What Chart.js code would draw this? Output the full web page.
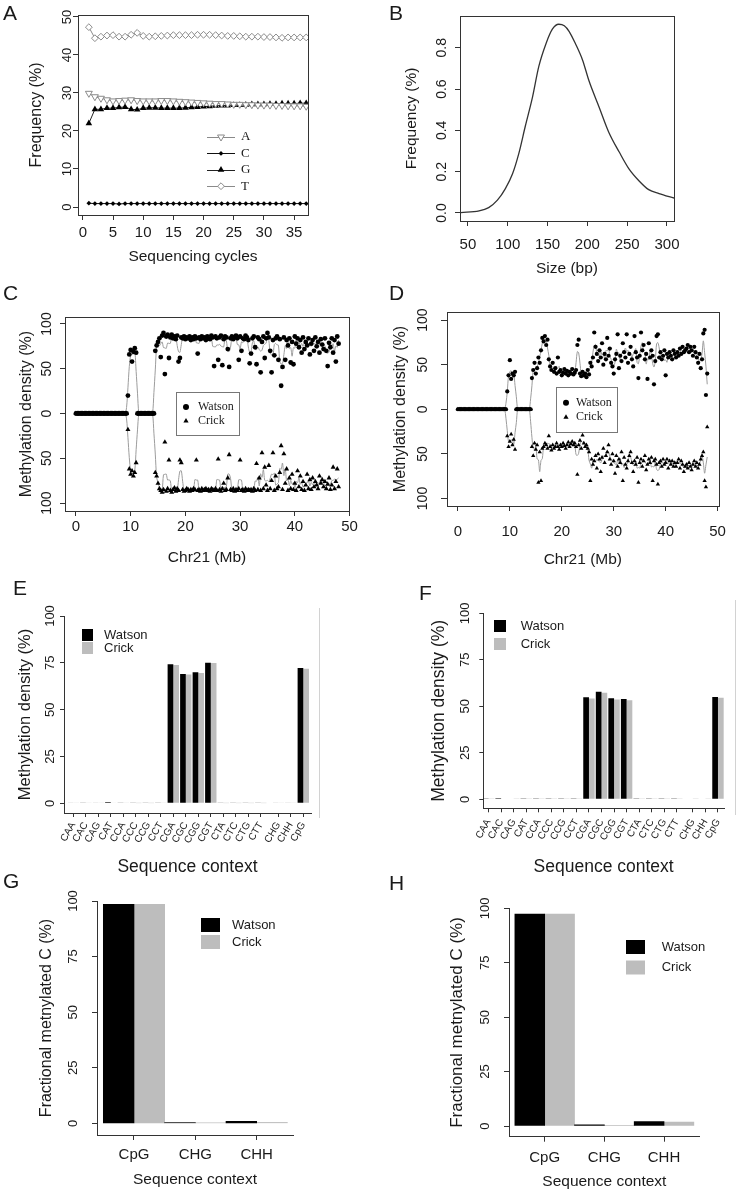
<!DOCTYPE html>
<html>
<head>
<meta charset="utf-8">
<title>Bisulfite sequencing summary</title>
<script src="https://cdn.jsdelivr.net/npm/chart.js@4.4.1/dist/chart.umd.min.js"></script>
<style>
  html, body { margin: 0; padding: 0; background: #fff; }
  body { position: relative; width: 738px; height: 1193px; overflow: hidden; font-family: "Liberation Sans", Arial, sans-serif; color: #1a1a1a; }
  canvas { position: absolute; }
  .tag { position: absolute; font-size: 21px; line-height: 21px; }
  .rule { position: absolute; width: 1px; background: #d2d2d2; }
</style>
</head>
<body>
<canvas id="panelA" width="330" height="270" style="left:0;top:0"></canvas>
<canvas id="panelB" width="330" height="280" style="left:369px;top:0"></canvas>
<canvas id="panelC" width="369" height="290" style="left:0;top:280px"></canvas>
<canvas id="panelD" width="369" height="290" style="left:369px;top:280px"></canvas>
<canvas id="panelE" width="330" height="310" style="left:0;top:570px"></canvas>
<canvas id="panelF" width="369" height="310" style="left:369px;top:570px"></canvas>
<canvas id="panelG" width="330" height="313" style="left:0;top:880px"></canvas>
<canvas id="panelH" width="369" height="313" style="left:369px;top:880px"></canvas>

<div class="tag" style="left:3px;top:2px">A</div>
<div class="tag" style="left:389px;top:2px">B</div>
<div class="tag" style="left:3px;top:282px">C</div>
<div class="tag" style="left:389px;top:282px">D</div>
<div class="tag" style="left:13px;top:577px">E</div>
<div class="tag" style="left:419px;top:582px">F</div>
<div class="tag" style="left:3px;top:870px">G</div>
<div class="tag" style="left:389px;top:872px">H</div>
<div class="rule" style="left:319px;top:608px;height:210px"></div>
<div class="rule" style="left:735px;top:600px;height:215px"></div>

<script>
// ---------- data ----------

// A: base composition per sequencing cycle
const cycles = [1, 2, 3, 4, 5, 6, 7, 8, 9, 10, 11, 12, 13, 14, 15, 16, 17, 18, 19, 20,
  21, 22, 23, 24, 25, 26, 27, 28, 29, 30, 31, 32, 33, 34, 35, 36, 37];
const freqA = [29.9, 29.0, 28.6, 28.2, 27.9, 28.0, 28.1, 28.2, 28.0, 27.9, 27.9, 27.9, 28.0, 28.0, 27.9, 27.8, 27.7, 27.6, 27.5, 27.4,
  27.3, 27.2, 27.2, 27.1, 27.0, 27.0, 26.9, 26.9, 26.8, 26.8, 26.8, 26.7, 26.7, 26.6, 26.6, 26.6, 26.5];
const freqC = [1.0, 0.9, 0.9, 0.9, 0.9, 0.8, 0.9, 0.9, 0.9, 0.9, 0.9, 0.9, 0.9, 0.9, 0.9, 0.9, 0.9, 0.9, 0.9, 0.9,
  0.9, 0.9, 0.9, 0.9, 0.9, 0.9, 0.9, 0.9, 0.9, 0.9, 0.9, 0.9, 0.9, 0.9, 0.9, 0.9, 0.9];
const freqG = [22.0, 25.7, 25.7, 26.0, 26.0, 26.2, 26.3, 25.7, 25.6, 26.0, 26.1, 26.1, 26.0, 26.0, 26.0, 26.0, 26.1, 26.2, 26.3, 26.4,
  26.5, 26.6, 26.7, 26.7, 26.8, 26.8, 26.9, 27.0, 27.0, 27.0, 27.1, 27.1, 27.2, 27.2, 27.2, 27.3, 27.3];
const freqT = [47.3, 44.4, 44.8, 45.1, 45.2, 44.8, 44.8, 45.3, 45.8, 45.0, 44.8, 44.9, 45.0, 45.1, 45.2, 45.2, 45.2, 45.2, 45.3, 45.3,
  45.3, 45.2, 45.1, 45.0, 45.0, 44.9, 44.8, 44.8, 44.8, 44.7, 44.7, 44.6, 44.5, 44.6, 44.6, 44.6, 44.6];
const aXTicks = [0, 5, 10, 15, 20, 25, 30, 35];
const aYTicks = [0, 10, 20, 30, 40, 50];

// B: fragment size distribution
const sizes = [41, 64, 76, 87, 97, 106, 114, 122, 131, 139, 148, 156, 164, 171, 177, 185, 194, 202, 215, 227, 240, 252, 265, 277, 290, 309];
const sizeFreq = [0.002, 0.010, 0.026, 0.062, 0.118, 0.190, 0.290, 0.420, 0.560, 0.710, 0.820, 0.890, 0.914, 0.907, 0.880, 0.820,
  0.740, 0.640, 0.510, 0.390, 0.295, 0.215, 0.155, 0.113, 0.094, 0.072];
const bXTicks = [50, 100, 150, 200, 250, 300];
const bYTicks = [0, 0.2, 0.4, 0.6, 0.8];

// C, D: methylation density along chr21, one value per 0.25 Mb bin starting at 0 Mb
const BIN_MB = 0.25;
const cWatson = [
  0,0,0,0, 0,0,0,0, 0,0,0,0, 0,0,0,0, 0,0,0,0, 0,0,0,0, 0,0,0,0, 0,0,0,0, 0,0,0,0, // 0-8
  0,0,20,66,  71,58,69,73,  68,0,0,0,  0,0,0,0,  0,0,0,0,        // 9-13
  0,0,70,76,  80,84,63,87,  90,44,86,88,  62,85,88,84,  86,83,87,58, // 14-18
  62,85,84,86,  83,85,84,86,  82,85,83,86,  84,67,85,83,  86,84,85,82, // 19-23
  86,84,83,87,  85,53,86,84,  60,85,87,54,  83,86,85,72,  52,84,86,83, // 24-28
  85,87,84,60,  86,70,84,83,  87,85,82,56,  67,84,86,74,  55,85,83,46, // 29-33
  80,86,62,84,  90,85,70,46,  82,65,84,86,  60,83,31,52,  85,60,82,76, // 34-38
  84,57,80,55,  86,78,84,74,  82,68,85,72,  80,76,84,66,  78,82,70,85, // 39-43
  75,80,68,83,  77,72,84,70,  53,79,74,84,  68,82,58,86,  78             // 44-48
];
const cCrick = [
  0,0,0,0, 0,0,0,0, 0,0,0,0, 0,0,0,0, 0,0,0,0, 0,0,0,0, 0,0,0,0, 0,0,0,0, 0,0,0,0,
  0,0,18,62,  68,64,70,66,  55,0,0,0,  0,0,0,0,  0,0,0,0,
  0,0,66,70,  78,84,86,88,  85,32,87,84,  52,86,88,85,  83,87,84,86,
  52,55,85,87,  86,84,85,87,  85,86,84,85,  52,86,85,87,  84,86,85,84,
  86,85,87,84,  85,86,84,86,  51,85,87,84,  78,86,85,72,  46,85,86,84,
  87,85,86,84,  52,86,85,87,  84,86,85,86,  85,87,84,86,  56,85,72,86,
  44,84,60,80,  86,58,84,75,  44,86,70,84,  82,66,36,85,  45,78,62,86,
  72,84,68,85,  78,86,64,82,  70,85,76,86,  80,68,84,74,  85,72,82,76,
  80,84,70,78,  74,82,76,84,  79,72,85,80,  60,84,76,62,  82
];
const dWatson = [
  0,0,0,0, 0,0,0,0, 0,0,0,0, 0,0,0,0, 0,0,0,0, 0,0,0,0, 0,0,0,0, 0,0,0,0, 0,0,0,0,
  0,0,20,38,  55,34,40,38,  42,0,0,0,  0,0,0,0,  0,0,0,0,
  0,35,44,52,  40,46,58,52,  66,80,76,82,  72,78,56,48,  44,52,42,46,
  40,58,42,44,  38,41,45,40,  43,38,42,40,  45,39,41,44,  72,78,40,37,
  42,38,40,36,  44,39,52,48,  58,86,70,62,  54,66,58,74,  50,62,56,80,
  60,68,52,48,  40,56,62,84,  46,60,54,74,  64,58,84,52,  62,70,56,48,
  82,64,58,35,  60,86,66,72,  56,62,34,74,  58,66,60,28,  54,82,84,58,
  64,56,60,66,  38,62,58,64,  60,56,66,62,  58,64,60,68,  62,70,64,66,
  68,72,64,70,  66,60,70,64,  58,52,62,46,  56,85,89,16,  40
];
const dCrick = [
  0,0,0,0, 0,0,0,0, 0,0,0,0, 0,0,0,0, 0,0,0,0, 0,0,0,0, 0,0,0,0, 0,0,0,0, 0,0,0,0,
  0,0,30,42,  36,28,40,34,  45,0,0,0,  0,0,0,0,  0,0,0,0,
  0,42,52,38,  45,40,82,48,  80,44,42,38,  40,44,30,42,  46,40,44,42,
  38,42,45,40,  42,38,41,44,  40,37,42,39,  36,40,38,42,  73,40,35,44,
  29,38,42,40,  44,48,80,56,  62,58,52,66,  50,56,70,54,  44,60,52,48,
  40,56,62,50,  58,72,52,64,  56,60,48,80,  54,62,66,58,  52,48,60,70,
  58,62,54,82,  60,56,64,58,  52,68,62,56,  60,54,80,58,  56,62,84,60,
  58,64,56,62,  60,56,66,58,  62,58,64,60,  64,60,56,66,  58,62,70,64,
  62,66,60,64,  68,62,58,64,  60,66,62,56,  52,48,80,87,  20
];
const chrTicks = [0, 10, 20, 30, 40, 50];
const strandTicks = [-100, -50, 0, 50, 100];

// E, F: methylation density per trinucleotide context
const contexts = ['CAA', 'CAC', 'CAG', 'CAT', 'CCA', 'CCC', 'CCG', 'CCT', 'CGA', 'CGC', 'CGG', 'CGT',
  'CTA', 'CTC', 'CTG', 'CTT', 'CHG', 'CHH', 'CpG'];
const eWatson = [0.3, 0.2, 0.3, 0.6, 0.2, 0.2, 0.2, 0.2, 74.2, 69.1, 70.0, 75.1, 0.2, 0.2, 0.2, 0.2, 0.3, 0.3, 72.3];
const eCrick = [0.2, 0.2, 0.2, 0.3, 0.2, 0.1, 0.1, 0.2, 73.9, 68.7, 69.6, 74.9, 0.1, 0.1, 0.1, 0.1, 0.2, 0.2, 71.8];
const fWatson = [0.2, 0.6, 0.3, 0.2, 0.2, 0.2, 0.2, 0.2, 54.8, 57.8, 54.3, 53.9, 0.2, 0.2, 0.2, 0.2, 0.3, 0.3, 55.0];
const fCrick = [0.2, 0.3, 0.2, 0.1, 0.1, 0.1, 0.1, 0.1, 54.2, 57.3, 53.6, 53.2, 0.1, 0.1, 0.1, 0.1, 0.2, 0.2, 54.6];
const densityTicks = [0, 25, 50, 75, 100];

// G, H: fraction of methylated C per context
const summaryContexts = ['CpG', 'CHG', 'CHH'];
const gWatson = [98.5, 0.3, 0.9];
const gCrick = [98.5, 0.2, 0.4];
const hWatson = [97.4, 0.6, 2.0];
const hCrick = [97.4, 0.3, 1.8];

// ---------- look ----------
const SANS = '"Liberation Sans", Arial, Helvetica, sans-serif';
const SERIF = '"Liberation Serif", "Times New Roman", serif';
const INK = '#1a1a1a';
const AXIS = '#333';
const LIGHT = '#bdbdbd';

Chart.defaults.font.family = SANS;
Chart.defaults.color = INK;

// draws the symbol of a dataset (used by the in-plot keys)
function drawMark(ctx, ds, x, y, r) {
  ctx.fillStyle = ds.pointBackgroundColor;
  ctx.strokeStyle = ds.pointBorderColor || ds.pointBackgroundColor;
  ctx.lineWidth = ds.pointBorderWidth || 0;
  ctx.beginPath();
  if (ds.pointStyle === 'circle') {
    ctx.arc(x, y, r, 0, Math.PI * 2);
  } else if (ds.pointStyle === 'rectRot') {
    ctx.moveTo(x, y - r); ctx.lineTo(x + r, y); ctx.lineTo(x, y + r); ctx.lineTo(x - r, y); ctx.closePath();
  } else {
    const s = ds.pointRotation === 180 ? -1 : 1;
    ctx.moveTo(x, y - s * r); ctx.lineTo(x + r * 0.866, y + s * r / 2); ctx.lineTo(x - r * 0.866, y + s * r / 2); ctx.closePath();
  }
  ctx.fill();
  if (ds.pointBorderWidth) ctx.stroke();
}

// key placed inside the plot like the R legends
const keyLegend = {
  id: 'keyLegend',
  afterDatasetsDraw(chart, args, o) {
    if (!o || !o.rows) return;
    const ctx = chart.ctx;
    ctx.save();
    if (o.frame) {
      const [fx, fy, fw, fh] = o.frame;
      ctx.fillStyle = '#fff';
      ctx.fillRect(fx, fy, fw, fh);
      ctx.strokeStyle = '#777';
      ctx.lineWidth = 1;
      ctx.strokeRect(fx + 0.5, fy + 0.5, fw, fh);
    }
    ctx.font = o.font;
    ctx.textBaseline = 'middle';
    o.rows.forEach((dsIndex, i) => {
      const ds = chart.data.datasets[dsIndex];
      const y = o.y + i * o.gap;
      if (o.swatch) {
        ctx.fillStyle = ds.backgroundColor;
        ctx.fillRect(o.x, y - o.swatch[1] / 2, o.swatch[0], o.swatch[1]);
      } else {
        if (o.line) {
          ctx.strokeStyle = ds.borderColor;
          ctx.lineWidth = 1;
          ctx.beginPath();
          ctx.moveTo(o.x - o.line, Math.round(y) + 0.5);
          ctx.lineTo(o.x + o.line, Math.round(y) + 0.5);
          ctx.stroke();
        }
        drawMark(ctx, ds, o.x, y, o.r || ds.pointRadius);
      }
      ctx.fillStyle = INK;
      ctx.fillText(ds.label, o.textX, y);
    });
    ctx.restore();
  }
};

// closes the plot box on top and right
const frame = {
  id: 'frame',
  afterDatasetsDraw(chart, args, o) {
    if (!o || !o.on) return;
    const {ctx, chartArea: a} = chart;
    ctx.save();
    ctx.strokeStyle = AXIS;
    ctx.lineWidth = 1;
    ctx.strokeRect(Math.round(a.left) + 0.5, Math.round(a.top) + 0.5, Math.round(a.right - a.left), Math.round(a.bottom - a.top));
    ctx.restore();
  }
};

Chart.register(keyLegend, frame);

function yAxis(o) {
  return {
    type: 'linear', position: 'left', min: o.min, max: o.max, bounds: 'data',
    afterFit: s => { s.width = o.width; },
    afterBuildTicks: s => { s.ticks = o.ticks.map(v => ({ value: v })); },
    grid: { drawOnChartArea: false, drawTicks: true, tickLength: o.tl, tickColor: AXIS, color: AXIS },
    border: { display: true, color: AXIS, width: 1 },
    ticks: {
      minRotation: 90, maxRotation: 90, crossAlign: 'center', padding: o.pad, autoSkip: false,
      color: INK, font: { size: o.font, family: SANS }, callback: o.fmt || (v => v)
    },
    title: { display: true, text: o.title, color: INK, font: { size: o.titleSize, family: SANS }, padding: { top: o.titlePad, bottom: 0 } }
  };
}

function xAxis(o) {
  return {
    type: 'linear', position: 'bottom', min: o.min, max: o.max, bounds: 'data', offset: false,
    afterFit: s => { s.height = o.height; },
    afterBuildTicks: s => { s.ticks = o.ticks.map(v => ({ value: v })); },
    grid: { drawOnChartArea: false, drawTicks: true, tickLength: o.tl, tickColor: AXIS, color: AXIS, offset: false },
    border: { display: true, color: AXIS, width: 1 },
    ticks: {
      minRotation: o.rot || 0, maxRotation: o.rot || 0, padding: o.pad, autoSkip: false,
      color: INK, font: { size: o.font, family: SANS },
      callback: o.labels ? (v, i) => o.labels[i] : (v => v)
    },
    title: { display: true, text: o.title, color: INK, font: { size: o.titleSize, family: SANS }, padding: { top: 0, bottom: o.titlePad } }
  };
}

function baseOptions(pad, scales, plugins) {
  return {
    responsive: false,
    animation: false,
    devicePixelRatio: 1,
    events: [],
    layout: { padding: pad },
    scales: scales,
    plugins: Object.assign({ legend: { display: false }, tooltip: { enabled: false } }, plugins)
  };
}

// ---------- A ----------
function cycleSeries(label, values, look) {
  return {
    label: label,
    data: cycles.map((c, i) => ({ x: c, y: values[i] })),
    borderColor: look.line, borderWidth: 1, tension: 0,
    pointStyle: look.style, pointRotation: look.rot || 0, pointRadius: look.r,
    pointBackgroundColor: look.fill, pointBorderColor: look.edge, pointBorderWidth: look.bw
  };
}

new Chart(document.getElementById('panelA'), {
  type: 'line',
  data: {
    datasets: [
      cycleSeries('A', freqA, { line: '#8a8a8a', style: 'triangle', rot: 180, r: 4, fill: '#fff', edge: '#8a8a8a', bw: 1 }),
      cycleSeries('C', freqC, { line: '#111', style: 'rectRot', r: 2.4, fill: '#000', edge: '#000', bw: 0 }),
      cycleSeries('G', freqG, { line: '#222', style: 'triangle', r: 3.8, fill: '#000', edge: '#000', bw: 0 }),
      cycleSeries('T', freqT, { line: '#8a8a8a', style: 'rectRot', r: 3.4, fill: '#fff', edge: '#8a8a8a', bw: 1 })
    ]
  },
  options: baseOptions({ left: 0, top: 15, right: 22, bottom: 0 }, {
    x: xAxis({ min: -0.8, max: 37.3, ticks: aXTicks, height: 55, tl: 5, pad: 4, font: 15, title: 'Sequencing cycles', titleSize: 15.5, titlePad: 3.7 }),
    y: yAxis({ min: -2.1, max: 50.5, ticks: aYTicks, width: 78, tl: 5, pad: -1.5, font: 13, title: 'Frequency (%)', titleSize: 16, titlePad: 27.4 })
  }, {
    frame: { on: true },
    keyLegend: { rows: [0, 1, 2, 3], x: 221, y: 137, gap: 16.4, line: 14, textX: 241, font: '13px ' + SERIF }
  })
});

// ---------- B ----------
new Chart(document.getElementById('panelB'), {
  type: 'line',
  data: {
    datasets: [{
      label: 'Frequency',
      data: sizes.map((s, i) => ({ x: s, y: sizeFreq[i] })),
      borderColor: '#333', borderWidth: 1.3, pointRadius: 0, cubicInterpolationMode: 'monotone'
    }]
  },
  options: baseOptions({ left: 0, top: 16, right: 25, bottom: 0 }, {
    x: xAxis({ min: 40, max: 308.8, ticks: bXTicks, height: 59, tl: 5, pad: 10, font: 15, title: 'Size (bp)', titleSize: 15.5, titlePad: 1.7 }),
    y: yAxis({ min: -0.039, max: 0.954, ticks: bYTicks, width: 91, tl: 5, pad: 3.3, font: 14, fmt: v => v.toFixed(1), title: 'Frequency (%)', titleSize: 15.5, titlePad: 33.7 })
  }, { frame: { on: true } })
});

// ---------- C, D ----------
function binSeries(values, sign) {
  return values.map((v, i) => ({ x: i * BIN_MB, y: sign * v }));
}
// running mean over three neighbouring bins, drawn as the grey trend line
function runningMean(values) {
  return values.map((v, i) => {
    const w = values.slice(Math.max(0, i - 1), i + 2);
    return w.reduce((s, t) => s + t, 0) / w.length;
  });
}
function dots(label, data, style, r) {
  return { label: label, data: data, showLine: false, pointStyle: style, pointRadius: r,
    pointBackgroundColor: '#000', pointBorderColor: '#000', pointBorderWidth: 0, borderColor: '#000' };
}
function trend(label, data) {
  return { label: label, data: data, borderColor: '#9c9c9c', borderWidth: 1, pointRadius: 0, tension: 0.3 };
}

new Chart(document.getElementById('panelC'), {
  type: 'line',
  data: {
    datasets: [
      dots('Watson', binSeries(cWatson, 1), 'circle', 2.4),
      dots('Crick', binSeries(cCrick, -1), 'triangle', 2.9),
      trend('Watson trend', binSeries(runningMean(cWatson), 1)),
      trend('Crick trend', binSeries(runningMean(cCrick), -1))
    ]
  },
  options: baseOptions({ left: 0, top: 37, right: 20, bottom: 0 }, {
    x: xAxis({ min: -2.0, max: 49.9, ticks: chrTicks, height: 59, tl: 5, pad: 2, font: 15, title: 'Chr21 (Mb)', titleSize: 15.5, titlePad: 2.7 }),
    y: yAxis({ min: -108.9, max: 107.8, ticks: strandTicks, width: 65, tl: 5, pad: 1.3, font: 14, fmt: v => Math.abs(v), title: 'Methylation density (%)', titleSize: 16, titlePad: 17.4 })
  }, {
    frame: { on: true },
    keyLegend: { rows: [0, 1], frame: [176, 112, 63, 43], x: 186, y: 127, gap: 14, r: 3, textX: 198, font: '12px ' + SERIF }
  })
});

new Chart(document.getElementById('panelD'), {
  type: 'line',
  data: {
    datasets: [
      dots('Watson', binSeries(dWatson, 1), 'circle', 2.1),
      dots('Crick', binSeries(dCrick, -1), 'triangle', 2.5),
      trend('Watson trend', binSeries(runningMean(dWatson), 1)),
      trend('Crick trend', binSeries(runningMean(dCrick), -1))
    ]
  },
  options: baseOptions({ left: 0, top: 32, right: 12, bottom: 0 }, {
    x: xAxis({ min: -2.1, max: 50.2, ticks: chrTicks, height: 64, tl: 5, pad: 12, font: 15, title: 'Chr21 (Mb)', titleSize: 15.5, titlePad: 0.7 }),
    y: yAxis({ min: -108.4, max: 109, ticks: strandTicks, width: 78, tl: 6, pad: 6.3, font: 14, fmt: v => Math.abs(v), title: 'Methylation density (%)', titleSize: 16, titlePad: 22.4 })
  }, {
    frame: { on: true },
    keyLegend: { rows: [0, 1], frame: [187, 107, 61, 45], x: 197, y: 122.7, gap: 14.6, r: 3, textX: 207, font: '12px ' + SERIF }
  })
});

// ---------- E, F ----------
function bars(label, values, pos, color, cp) {
  return { label: label, data: values.map((v, i) => ({ x: pos[i], y: v })), backgroundColor: color,
    borderWidth: 0, categoryPercentage: cp, barPercentage: 1 };
}
// the three summary contexts sit a little apart from the 16 trinucleotides
const ePos = contexts.map((c, i) => (i < 16 ? i : i + 0.4));
const fPos = contexts.map((c, i) => (i < 16 ? i : i + 0.28));

new Chart(document.getElementById('panelE'), {
  type: 'bar',
  data: { datasets: [bars('Watson', eWatson, ePos, '#000', 0.91), bars('Crick', eCrick, ePos, LIGHT, 0.91)] },
  options: baseOptions({ left: 0, top: 46, right: 19, bottom: 0 }, {
    x: xAxis({ min: -0.744, max: 19.016, ticks: ePos, labels: contexts, rot: 60, height: 67, tl: 4, pad: 3, font: 10, title: 'Sequence context', titleSize: 17.5, titlePad: 2.5 }),
    y: yAxis({ min: -5.18, max: 100, ticks: densityTicks, width: 64, tl: 4, pad: -0.8, font: 13, title: 'Methylation density (%)', titleSize: 16.5, titlePad: 15.1 })
  }, {
    keyLegend: { rows: [0, 1], swatch: [11, 12], x: 82, y: 65, gap: 13, textX: 104, font: '13px ' + SANS }
  })
});

new Chart(document.getElementById('panelF'), {
  type: 'bar',
  data: { datasets: [bars('Watson', fWatson, fPos, '#000', 0.91), bars('Crick', fCrick, fPos, LIGHT, 0.91)] },
  options: baseOptions({ left: 0, top: 43.3, right: 14, bottom: 0 }, {
    x: xAxis({ min: -0.42, max: 18.76, ticks: fPos, labels: contexts, rot: 60, height: 71.7, tl: 4, pad: 4.7, font: 10, title: 'Sequence context', titleSize: 17.5, titlePad: 2.5 }),
    y: yAxis({ min: -4.84, max: 100, ticks: densityTicks, width: 114.3, tl: 4, pad: 2.8, font: 13, title: 'Methylation density (%)', titleSize: 17.5, titlePad: 59.5 })
  }, {
    keyLegend: { rows: [0, 1], swatch: [12, 12], x: 125, y: 56, gap: 18, textX: 151.7, font: '13px ' + SANS }
  })
});

// ---------- G, H ----------
const summaryPos = [1, 2, 3];

new Chart(document.getElementById('panelG'), {
  type: 'bar',
  data: { datasets: [bars('Watson', gWatson, summaryPos, '#000', 1), bars('Crick', gCrick, summaryPos, LIGHT, 1)] },
  options: baseOptions({ left: 0, top: 21, right: 37, bottom: 0 }, {
    x: xAxis({ min: 0.397, max: 3.592, ticks: summaryPos, labels: summaryContexts, height: 58, tl: 5, pad: 6, font: 15, title: 'Sequence context', titleSize: 15.5, titlePad: 3.7 }),
    y: yAxis({ min: -5.26, max: 100, ticks: densityTicks, width: 97, tl: 5, pad: 7.9, font: 13, title: 'Fractional metnylated C (%)', titleSize: 16, titlePad: 37.1 })
  }, {
    keyLegend: { rows: [0, 1], swatch: [19, 14], x: 201, y: 45, gap: 17, textX: 232, font: '13px ' + SANS }
  })
});

new Chart(document.getElementById('panelH'), {
  type: 'bar',
  data: { datasets: [bars('Watson', hWatson, summaryPos, '#000', 1), bars('Crick', hCrick, summaryPos, LIGHT, 1)] },
  options: baseOptions({ left: 0, top: 28.3, right: 38.3, bottom: 0 }, {
    x: xAxis({ min: 0.4015, max: 3.598, ticks: summaryPos, labels: summaryContexts, height: 56.3, tl: 5, pad: 7.3, font: 15, title: 'Sequence context', titleSize: 15.5, titlePad: 2 }),
    y: yAxis({ min: -4.9, max: 100, ticks: densityTicks, width: 140, tl: 5, pad: 7.5, font: 13, title: 'Fractional metnylated C (%)', titleSize: 17, titlePad: 78.1 })
  }, {
    keyLegend: { rows: [0, 1], swatch: [19, 14], x: 257, y: 67, gap: 20.5, textX: 292.7, font: '13px ' + SANS }
  })
});
</script>
</body>
</html>
